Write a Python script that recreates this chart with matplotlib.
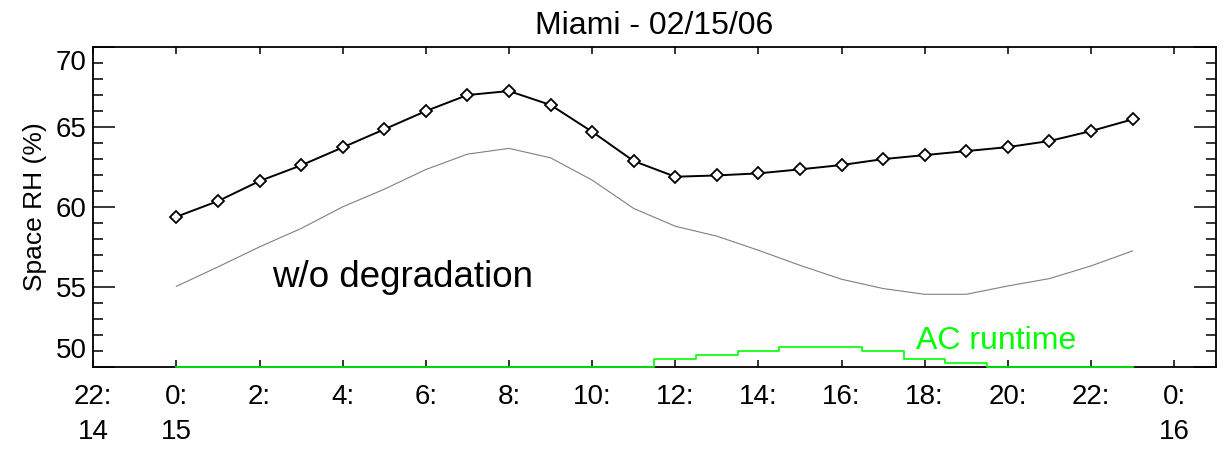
import numpy as np
import matplotlib.pyplot as plt
from matplotlib.ticker import MultipleLocator

plt.rcParams['font.family'] = ['Liberation Sans', 'DejaVu Sans']

# hour of day on 02/15/06
hours = np.arange(24)

# space RH (%) with coil degradation (diamonds)
rh_degraded = [59.38, 60.36, 61.61, 62.59, 63.71, 64.84, 65.98, 66.98,
               67.23, 66.36, 64.69, 62.86, 61.88, 61.96, 62.09, 62.34,
               62.61, 62.98, 63.23, 63.48, 63.73, 64.11, 64.73, 65.46]

# space RH (%) without degradation (thin grey)
rh_no_degr = [55.04, 56.25, 57.50, 58.65, 60.00, 61.10, 62.33, 63.29,
              63.65, 63.06, 61.67, 59.90, 58.79, 58.17, 57.29, 56.35,
              55.48, 54.90, 54.54, 54.54, 55.06, 55.52, 56.31, 57.25]

# AC runtime, drawn as height above the bottom of the RH axis
ac_runtime = [0, 0, 0, 0, 0, 0, 0, 0, 0, 0, 0, 0,
              0.48, 0.75, 0.98, 1.25, 1.25, 0.98, 0.48, 0.25, 0, 0, 0, 0]

xtick_pos = np.arange(-2, 25, 2)
xtick_lab = ["22:\n14", "0:\n15", "2:", "4:", "6:", "8:", "10:", "12:",
             "14:", "16:", "18:", "20:", "22:", "0:\n16"]

fig = plt.figure(figsize=(12.24, 4.5), dpi=100)
ax = fig.add_axes([0.0762, 0.1844, 0.9170, 0.7119])

ax.plot(hours, rh_no_degr, color='#808080', lw=0.8)
ax.plot(hours, rh_degraded, color='black', lw=1.4, marker='D', ms=5.8,
        mfc='white', mec='black', mew=1.3)
base = 50.0
ax.step(hours, base + np.array(ac_runtime), where='mid', color='#00ff00',
        lw=1.2, clip_on=False, zorder=3)

ax.text(2.3, 55.0, "w/o degradation", fontsize=26.5, va='baseline', ha='left')
ax.text(17.78, 51.15, "AC runtime", fontsize=23, color='#00ff00',
        va='baseline', ha='left')

ax.set_xlim(-2, 25)
ax.set_ylim(50, 70)
ax.set_xticks(xtick_pos)
ax.set_xticklabels(xtick_lab, linespacing=1.45)
ax.set_yticks([50, 55, 60, 65, 70])
ax.set_yticklabels(['', '55', '60', '65', ''])
ax.yaxis.set_minor_locator(MultipleLocator(1))

# end labels sit one unit inside the axis ends
ytr = ax.get_yaxis_transform()
ax.text(-0.006, 69, "70", transform=ytr, ha='right', va='center', fontsize=20)
ax.text(-0.006, 51, "50", transform=ytr, ha='right', va='center', fontsize=20)

ax.tick_params(axis='x', which='major', direction='in', top=True,
               length=5, width=1.1, labelsize=20, pad=12)
ax.tick_params(axis='y', which='major', direction='in', right=True,
               length=15.6, width=1.1, labelsize=20, pad=4.8)
ax.tick_params(axis='y', which='minor', direction='in', right=True,
               length=7, width=1.1)
for s in ax.spines.values():
    s.set_linewidth(1.3)

ax.set_ylabel("Space RH (%)", fontsize=19, labelpad=6)
ax.set_title("Miami - 02/15/06", fontsize=23, pad=9)

fig.savefig("out.png", dpi=100)
